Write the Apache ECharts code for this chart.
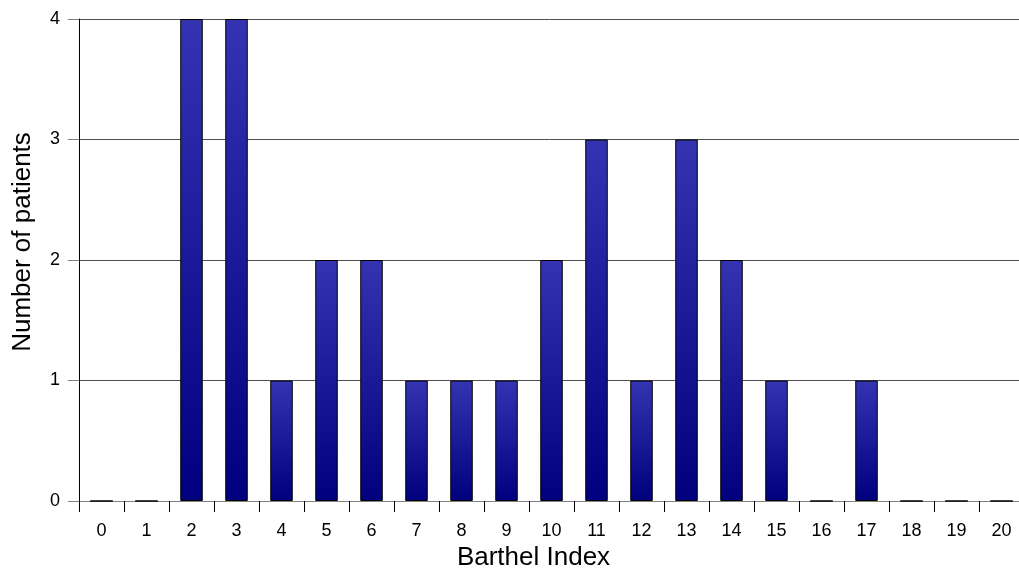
<!DOCTYPE html>
<html>
<head>
<meta charset="utf-8">
<script src="https://cdn.jsdelivr.net/npm/echarts@6/dist/echarts.min.js"></script>
<style>
  html, body { margin: 0; padding: 0; background: #fff; }
  #chart { width: 1019px; height: 568px; }
</style>
</head>
<body>
<div id="chart"></div>
<script>
// Barthel Index score categories and patient counts
const barthelScores = ['0','1','2','3','4','5','6','7','8','9','10','11','12','13','14','15','16','17','18','19','20'];
const patientCounts = [0, 0, 4, 4, 1, 2, 2, 1, 1, 1, 2, 3, 1, 3, 2, 1, 0, 1, 0, 0, 0];
const countTicks = [0, 1, 2, 3, 4];

const font = 'Liberation Sans, Arial, sans-serif';
const chart = echarts.init(document.getElementById('chart'), null, { renderer: 'canvas' });

chart.setOption({
  animation: false,
  backgroundColor: '#ffffff',
  grid: { left: 79, right: -5, top: 19, bottom: 67, containLabel: false, outerBoundsMode: 'none' },
  xAxis: {
    type: 'category',
    data: barthelScores,
    boundaryGap: true,
    name: 'Barthel Index',
    nameLocation: 'middle',
    nameGap: 41,
    nameTextStyle: { fontFamily: font, fontSize: 26, color: '#000', padding: [0, 36, 0, 0] },
    axisLine: { show: true, lineStyle: { color: '#808080', width: 1 } },
    axisTick: { show: true, alignWithLabel: false, length: 11, lineStyle: { color: '#000', width: 1 } },
    axisLabel: { fontFamily: font, fontSize: 18, color: '#000', margin: 21, interval: 0 },
    splitLine: { show: false }
  },
  yAxis: {
    type: 'value',
    min: countTicks[0],
    max: countTicks[countTicks.length - 1],
    interval: 1,
    name: 'Number of patients',
    nameLocation: 'middle',
    nameGap: 43,
    nameRotate: 90,
    nameTextStyle: { fontFamily: font, fontSize: 26, color: '#000', padding: [0, 0, 0, 36] },
    axisLine: { show: true, lineStyle: { color: '#000', width: 1 } },
    axisTick: { show: true, inside: false, length: 11, lineStyle: { color: '#808080', width: 1 } },
    axisLabel: { fontFamily: font, fontSize: 18, color: '#000', margin: 19 },
    splitLine: { show: true, lineStyle: { color: '#505050', width: 1 } }
  },
  series: [{
    type: 'bar',
    data: patientCounts,
    barWidth: '50%',
    itemStyle: {
      color: new echarts.graphic.LinearGradient(0, 0, 0, 1, [
        { offset: 0, color: '#3434b2' },
        { offset: 1, color: '#00007e' }
      ]),
      borderColor: '#000',
      borderWidth: 1
    }
  }]
});
</script>
</body>
</html>
